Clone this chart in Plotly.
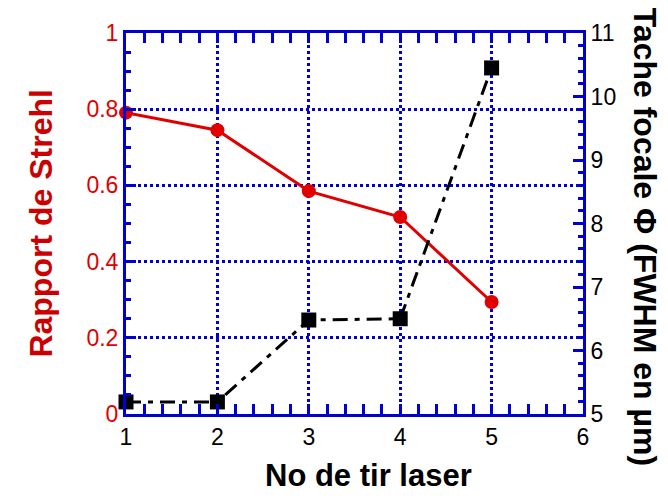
import plotly.graph_objects as go

# Laser shot number
shots = [1, 2, 3, 4, 5]
# Strehl ratio for each shot (left axis)
strehl = [0.791, 0.745, 0.585, 0.517, 0.294]
# Focal spot size, FWHM in µm (right axis)
focal_spot = [5.19, 5.19, 6.48, 6.50, 10.45]

x_ticks = [1, 2, 3, 4, 5, 6]
y_ticks = [0, 0.2, 0.4, 0.6, 0.8, 1]
y2_ticks = [5, 6, 7, 8, 9, 10, 11]

BLUE = "rgb(0,0,210)"
RED = "rgb(225,0,0)"
FONT = "Liberation Sans, Arial, sans-serif"

fig = go.Figure()

fig.add_trace(go.Scatter(
    x=shots, y=focal_spot, yaxis="y2", mode="lines+markers",
    line=dict(color="black", width=3, dash="15px,7px,5px,7px"),
    marker=dict(symbol="square", size=15, color="black"),
    cliponaxis=False, showlegend=False,
))
fig.add_trace(go.Scatter(
    x=shots, y=strehl, mode="lines+markers",
    line=dict(color=RED, width=3),
    marker=dict(symbol="circle", size=14, color=RED),
    cliponaxis=False, showlegend=False,
))

grid = dict(showgrid=True, gridcolor=BLUE, gridwidth=2.5, griddash="3px,3px")

fig.update_layout(
    width=668, height=498,
    margin=dict(l=126, r=85, t=33, b=84),
    paper_bgcolor="white", plot_bgcolor="white",
    font=dict(family=FONT, size=23, color="black"),
    xaxis=dict(
        range=[1, 6], tickvals=x_ticks, ticks="inside", ticklen=10, tickwidth=3,
        tickcolor=BLUE, showline=True, linecolor=BLUE, linewidth=3, mirror="allticks",
        zeroline=False, **grid,
        minor=dict(dtick=0.2, ticks="inside", ticklen=5, tickwidth=3, tickcolor=BLUE, showgrid=False),
        tickfont=dict(size=23, color="black"),
    ),
    yaxis=dict(
        range=[0, 1], tickvals=y_ticks, ticks="inside", ticklen=10, tickwidth=3,
        tickcolor=BLUE, showline=True, linecolor=BLUE, linewidth=3,
        zeroline=False, **grid,
        minor=dict(dtick=0.05, ticks="inside", ticklen=5, tickwidth=3, tickcolor=BLUE, showgrid=False),
        tickfont=dict(size=23, color=RED),
    ),
    yaxis2=dict(
        range=[5, 11], tickvals=y2_ticks, overlaying="y", side="right",
        ticks="inside", ticklen=10, tickwidth=3, tickcolor=BLUE,
        showline=True, linecolor=BLUE, linewidth=3, showgrid=False, zeroline=False,
        minor=dict(dtick=0.2, ticks="inside", ticklen=5, tickwidth=3, tickcolor=BLUE, showgrid=False),
        tickfont=dict(size=23, color="black"),
    ),
    annotations=[
        dict(text="<b>No de tir laser</b>", xref="paper", yref="paper",
             x=0.53, y=-0.212, showarrow=False,
             font=dict(size=31, color="black"), xanchor="center", yanchor="bottom"),
        dict(text="<b>Rapport de Strehl</b>", xref="paper", yref="paper",
             x=-0.188, y=0.5, textangle=-90, showarrow=False,
             font=dict(size=32, color="rgb(204,0,0)"), xanchor="center", yanchor="middle"),
        dict(text="<b>Tache focale \u03a6 (FWHM en \u00b5m)</b>", xref="paper", yref="paper",
             x=1.136, y=0.465, textangle=90, showarrow=False,
             font=dict(size=32, color="black"), xanchor="center", yanchor="middle"),
    ],
)

fig.write_html("out.html")
